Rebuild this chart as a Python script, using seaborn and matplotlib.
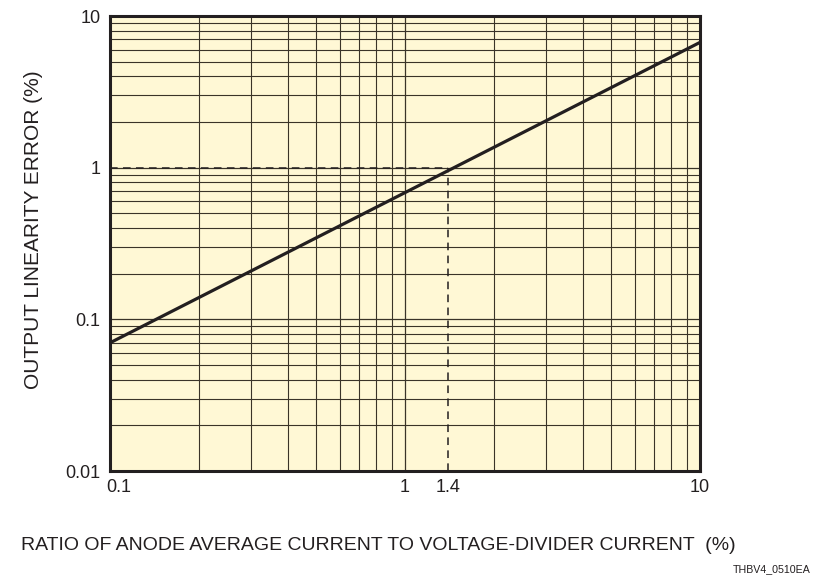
import matplotlib
matplotlib.use("Agg")
import matplotlib.pyplot as plt
import matplotlib.transforms as mtransforms
import numpy as np
import pandas as pd
import seaborn as sns

# datos
ratio = [0.1, 10]
error = [0.07, 6.7]
mark_x = 1.4
mark_y = 1.0
x_ticks = [0.1, 1, 1.4, 10]
x_tick_labels = ["0.1", "1", "1.4", "10"]
y_ticks = [0.01, 0.1, 1, 10]
y_tick_labels = ["0.01", "0.1", "1", "10"]

df = pd.DataFrame({"ratio": ratio, "error": error})

sns.set_style("white")
plt.rcParams["font.family"] = ["Liberation Sans", "DejaVu Sans"]

fig = plt.figure(figsize=(8.14, 5.76), dpi=100)
ax = fig.add_axes([110 / 814, 1 - 471 / 576, 590 / 814, 455 / 576])
ax.set_facecolor("#FFF8D5")
ax.set_xscale("log")
ax.set_yscale("log")
ax.set_xlim(0.1, 10)
ax.set_ylim(0.01, 10)

# rejilla en cada subdivision
grid_c = "#3a3428"
for dec in [0.1, 1]:
    for k in range(2, 10):
        ax.axvline(dec * k, color=grid_c, lw=0.8, zorder=1)
ax.axvline(1, color=grid_c, lw=0.9, zorder=1)
for dec in [0.01, 0.1, 1]:
    for k in range(2, 10):
        ax.axhline(dec * k, color=grid_c, lw=0.8, zorder=1)
for v in [0.1, 1]:
    ax.axhline(v, color=grid_c, lw=0.9, zorder=1)

# lineas de referencia
ax.plot([0.1, mark_x], [mark_y, mark_y], color="#231f20", lw=1.1, ls=(0, (5, 3.5)), zorder=2)
ax.plot([mark_x, mark_x], [0.01, mark_y], color="#231f20", lw=1.1, ls=(0, (5, 3.5)), zorder=2)

sns.lineplot(data=df, x="ratio", y="error", color="#231f20", lw=2.3, ax=ax, zorder=3)

ax.set_xticks(x_ticks)
ax.set_xticklabels(x_tick_labels)
ax.set_yticks(y_ticks)
ax.set_yticklabels(y_tick_labels)
ax.minorticks_off()
ax.tick_params(axis="both", length=0, labelsize=13, colors="#231f20")
ax.tick_params(axis="x", pad=6)
ax.tick_params(axis="y", pad=7)
# desplazar "0.1" para que no choque con "0.01"
lbl = ax.get_xticklabels()[0]
lbl.set_transform(lbl.get_transform() + mtransforms.ScaledTranslation(9 / 100, 0, fig.dpi_scale_trans))

for s in ax.spines.values():
    s.set_color("#231f20")
    s.set_linewidth(2.2)
    s.set_visible(True)

ax.set_xlabel("")
ax.set_ylabel("OUTPUT LINEARITY ERROR (%)", fontsize=15, color="#231f20")
ax.yaxis.set_label_coords(-67 / 590, (471 - 230) / 455)
fig.text(378 / 814, 1 - 546 / 576, "RATIO OF ANODE AVERAGE CURRENT TO VOLTAGE-DIVIDER CURRENT  (%)",
         ha="center", va="center", fontsize=14, color="#231f20")
fig.text(811 / 814, 1 - 569 / 576, "THBV4_0510EA", ha="right", va="center", fontsize=7.7, color="#231f20")

fig.savefig("out.png", dpi=100)
